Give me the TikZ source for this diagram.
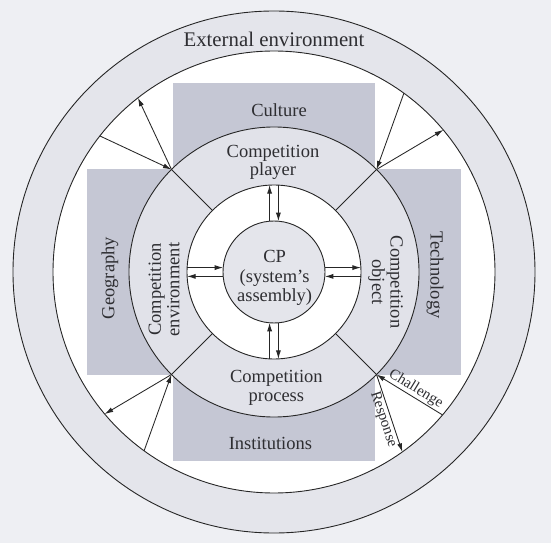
\documentclass[tikz,border=0pt]{standalone}
\usepackage{fontspec}
\setmainfont{Liberation Serif}
\usetikzlibrary{arrows.meta}
\definecolor{bggray}{HTML}{EEEFF3}
\definecolor{ringgray}{HTML}{E4E5EB}
\definecolor{boxgray}{HTML}{C5C7D4}
\definecolor{compgray}{HTML}{E1E2E9}
\definecolor{txtgray}{HTML}{2E2E32}
\tikzset{
% Define standard arrow tip
>={Latex[length=8.5pt,width=5pt]},
lbl/.style={text=txtgray, align=center, inner sep=0,
  font=\fontsize{18.5}{18.5}\selectfont},
ring/.style={draw=black!85, line width=0.9pt}
}

\begin{document}
\begin{tikzpicture}[x=1pt, y=1pt, line width=0.85pt, draw=black!85]
  \useasboundingbox (-274,-271) rectangle (277,272);
  \fill[bggray] (-274,-271) rectangle (277,272);

  % rings and boxes
  \filldraw[ring, fill=ringgray] (0,0) circle[radius=261];
  \filldraw[ring, fill=white] (0,0) circle[radius=221];
  \fill[boxgray] (-101,-189) rectangle (101,189);
  \fill[boxgray] (-187,-102.5) rectangle (187,102.5);
  \filldraw[ring, fill=compgray] (0,0) circle[radius=145];
  \filldraw[ring, fill=white] (0,0) circle[radius=87];
  \filldraw[ring, fill=ringgray] (0,0) circle[radius=51];

  \foreach \a/\n in {45/ur,135/ul,225/ll,315/lr}{
    \coordinate (\n-in) at (\a:87);
    \coordinate (\n) at (\a:145);
    \draw (\n-in) -- (\n);
  }

  % arrows to the outer environment
  \coordinate (ul-out1) at (128:221);
  \coordinate (ul-out2) at (142:221);
  \coordinate (ur-out1) at (54:221);
  \coordinate (ur-out2) at (40:221);
  \coordinate (ll-out1) at (220:221);
  \coordinate (ll-out2) at (234:221);
  \coordinate (lr-out1) at (319.7:221);
  \coordinate (lr-out2) at (305.5:221);
  \draw[->] (ul) -- (ul-out1);
  \draw[->] (ul-out2) -- (ul);
  \draw[->] (ur-out1) -- (ur);
  \draw[->] (ur) -- (ur-out2);
  \draw[->] (ll) -- (ll-out1);
  \draw[->] (ll-out2) -- (ll);
  \draw[<-] (lr) -- node[lbl, sloped, above=1pt, pos=0.53, font=\fontsize{15}{15}\selectfont] (chal) {Challenge} (lr-out1);
  \draw[->] (lr) -- node[lbl, sloped, below=1pt, pos=0.55, font=\fontsize{15}{15}\selectfont] (resp) {Response} (lr-out2);

  % arrows around CP
  \foreach \r/\n in {0/t,-90/r,180/b,90/l}{
    \begin{scope}[rotate=\r]
      \coordinate (\n-a1) at (-4.4,50.8);
      \coordinate (\n-a2) at (-4.4,86.9);
      \coordinate (\n-b1) at (4.4,86.9);
      \coordinate (\n-b2) at (4.4,50.8);
    \end{scope}
    \draw[->] (\n-a1) -- (\n-a2);
    \draw[->] (\n-b1) -- (\n-b2);
  }

  \node[lbl, font=\fontsize{20.8}{20.8}\selectfont] (ext) at (0,233) {External environment};
  \node[lbl] (culture) at (5,162) {Culture};
  \node[lbl] (player) at (-1,109.5) {Competition\\player};
  \node[lbl] (process) at (2.4,-115.7) {Competition\\process};
  \node[lbl] (inst) at (-3.6,-171) {Institutions};
  \node[lbl, rotate=90] (geo) at (-164,-6) {Geography};
  \node[lbl, rotate=90] (env) at (-110,-17.6) {Competition\\environment};
  \node[lbl, rotate=-90] (obj) at (111.6,-10) {Competition\\object};
  \node[lbl, rotate=-90] (tech) at (161,-3) {Technology};
  \node[lbl, font=\fontsize{18.5}{19.5}\selectfont] (cp) at (0.6,-6) {CP\\(system’s\\assembly)};
\end{tikzpicture}
\end{document}
